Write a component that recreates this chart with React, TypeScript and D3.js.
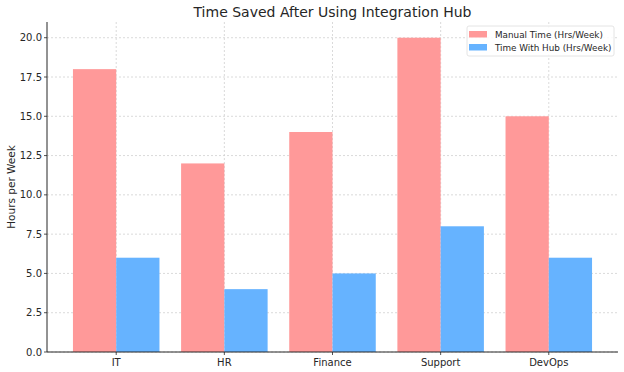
import React from "react";
import * as d3 from "d3";

const categories = ["IT", "HR", "Finance", "Support", "DevOps"];
const manualTime = [18, 12, 14, 20, 15];
const hubTime = [6, 4, 5, 8, 6];
const yTicks = [0, 2.5, 5, 7.5, 10, 12.5, 15, 17.5, 20];
const seriesNames = ["Manual Time (Hrs/Week)", "Time With Hub (Hrs/Week)"];
const seriesColors = ["#ff9999", "#66b3ff"];

const W = 624, H = 372;
const left = 47, right = 618, top = 22, bottom = 352;
const font = "DejaVu Sans, sans-serif";
const ink = "#262626";

export default function App() {
  const x = d3.scaleLinear().domain([-0.64, categories.length - 1 + 0.64]).range([left, right]);
  const y = d3.scaleLinear().domain([0, 21]).range([bottom, top]);
  const bw = 0.4;
  const series = [manualTime, hubTime];
  return (
    <svg width={W} height={H} style={{ position: "absolute", left: 0, top: 0, background: "#fff" }}>
      <text x={(left + right) / 2} y={17} textAnchor="middle" fontFamily={font} fontSize={14} fill={ink}>
        Time Saved After Using Integration Hub
      </text>
      {yTicks.map((t) => (
        <line key={"gy" + t} x1={left} x2={right} y1={y(t)} y2={y(t)} stroke="#d0d0d0" strokeWidth={0.8} strokeDasharray="2,2" />
      ))}
      {categories.map((c, i) => (
        <line key={"gx" + c} x1={x(i)} x2={x(i)} y1={top} y2={bottom} stroke="#d0d0d0" strokeWidth={0.8} strokeDasharray="2,2" />
      ))}
      {series.map((vals, s) =>
        vals.map((v, i) => {
          const x0 = x(i + (s === 0 ? -bw : 0));
          const x1 = x(i + (s === 0 ? 0 : bw));
          return <rect key={s + "-" + i} x={x0} y={y(v)} width={x1 - x0} height={y(0) - y(v)} fill={seriesColors[s]} />;
        })
      )}
      <line x1={left} x2={left} y1={top} y2={bottom} stroke={ink} strokeWidth={1} />
      <line x1={left} x2={right} y1={bottom} y2={bottom} stroke={ink} strokeWidth={1} />
      {yTicks.map((t) => (
        <g key={"ty" + t}>
          <line x1={left - 3} x2={left} y1={y(t)} y2={y(t)} stroke={ink} strokeWidth={0.8} />
          <text x={left - 5} y={y(t)} dy="0.35em" textAnchor="end" fontFamily={font} fontSize={10} fill={ink}>
            {t.toFixed(1)}
          </text>
        </g>
      ))}
      {categories.map((c, i) => (
        <g key={"tx" + c}>
          <line x1={x(i)} x2={x(i)} y1={bottom} y2={bottom + 3} stroke={ink} strokeWidth={0.8} />
          <text x={x(i)} y={bottom + 14} textAnchor="middle" fontFamily={font} fontSize={10} fill={ink}>
            {c}
          </text>
        </g>
      ))}
      <text transform={`translate(15,${(top + bottom) / 2}) rotate(-90)`} textAnchor="middle" fontFamily={font} fontSize={10.5} fill={ink}>
        Hours per Week
      </text>
      <g>
        <rect x={467} y={26} width={147} height={30} rx={2} fill="#fff" fillOpacity={0.85} stroke="#ddd" strokeWidth={0.8} />
        {seriesNames.map((n, s) => (
          <g key={n}>
            <rect x={469} y={31 + s * 13} width={18} height={6.5} fill={seriesColors[s]} />
            <text x={495} y={34.5 + s * 13} dy="0.35em" fontFamily={font} fontSize={8.8} fill={ink}>
              {n}
            </text>
          </g>
        ))}
      </g>
    </svg>
  );
}
